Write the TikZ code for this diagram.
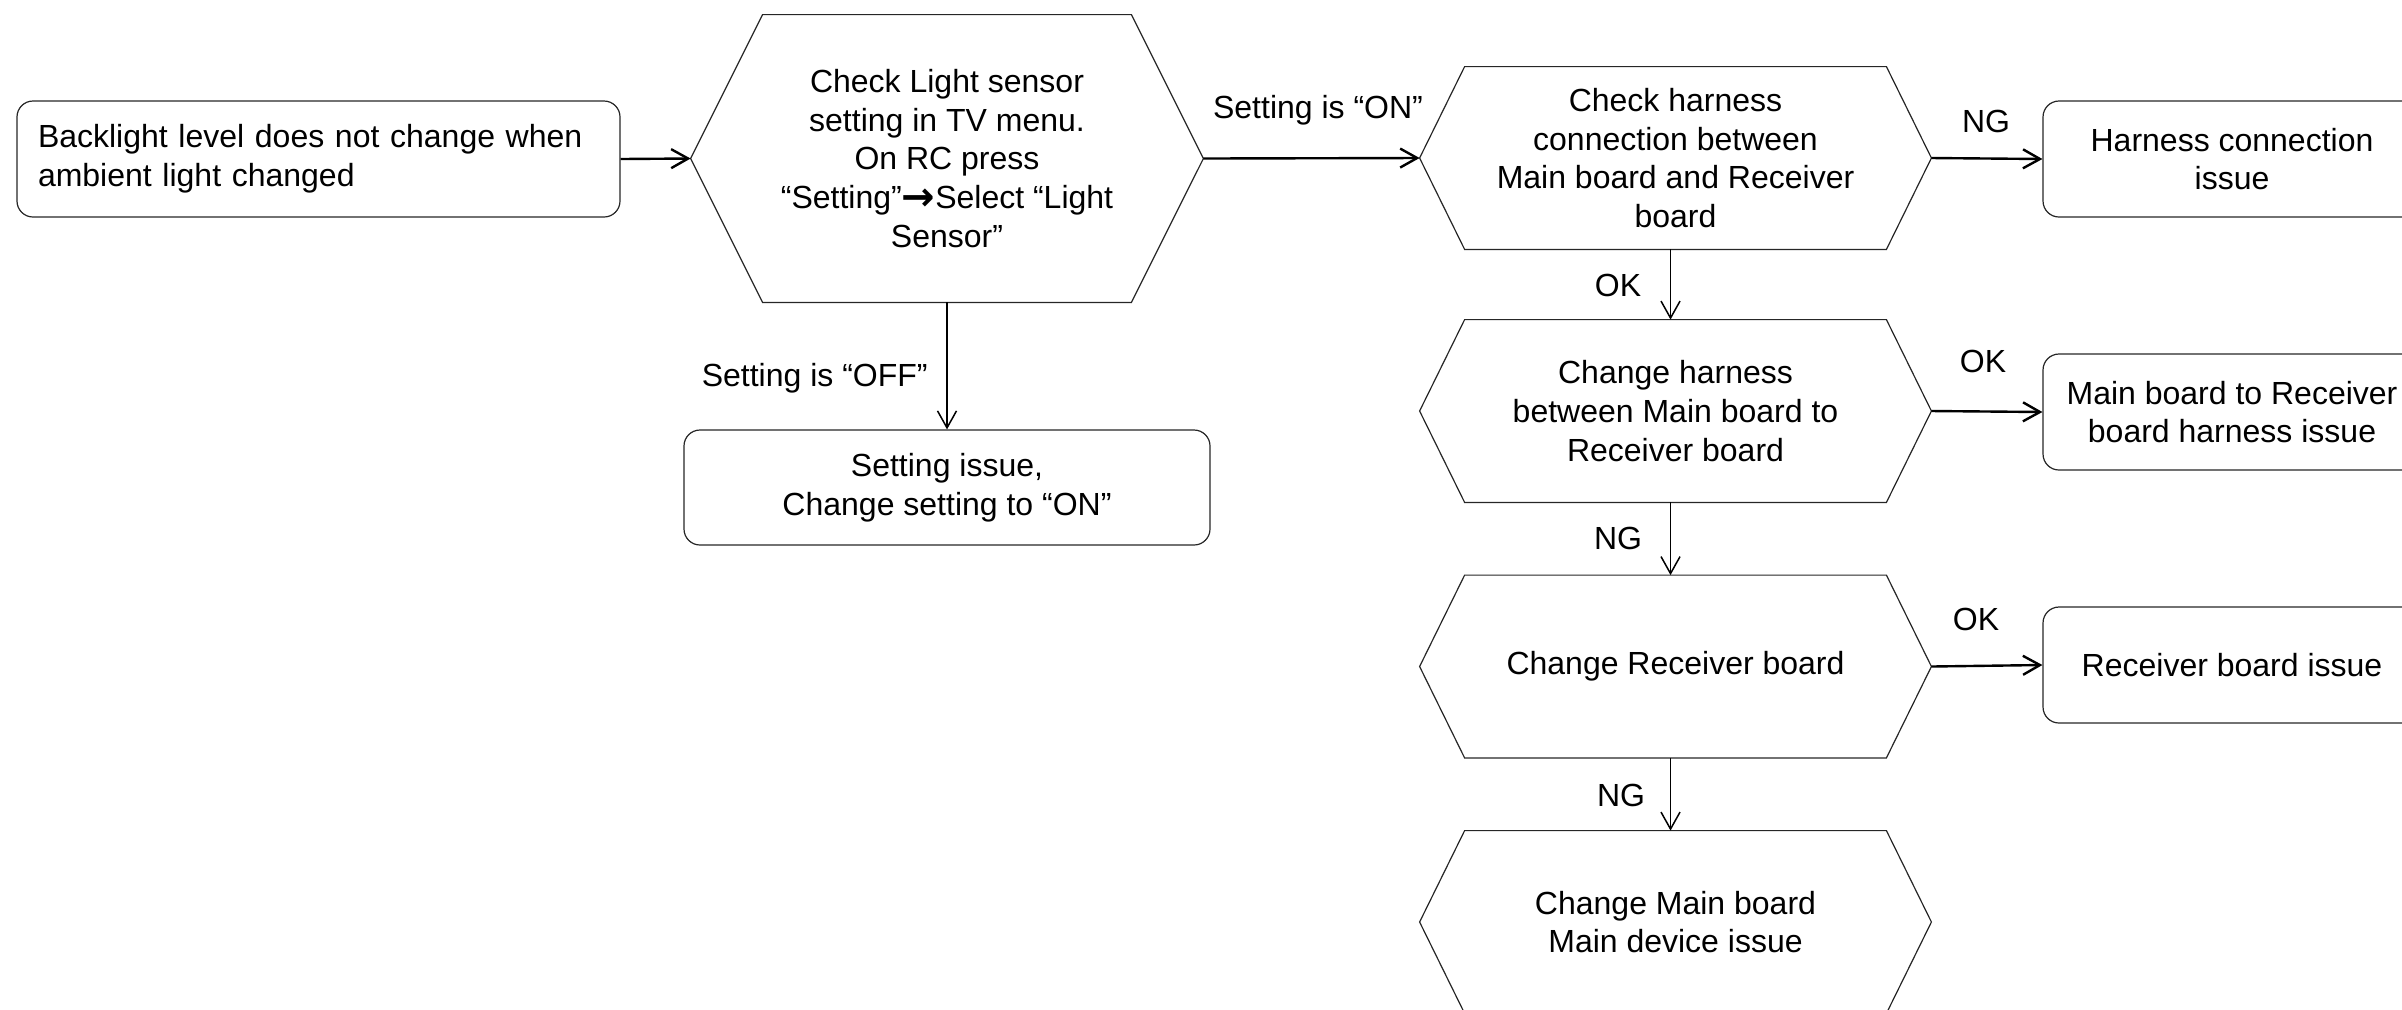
\documentclass[tikz,border=0pt]{standalone}
\usepackage{fontspec}
\setmainfont{Liberation Sans}
\newfontfamily\arrowfont{DejaVu Sans}
\usetikzlibrary{arrows.meta}
\newcommand\hexdraw[2]{\draw[shapeline] ([xshift=#2]#1.north west) -- ([xshift=-#2]#1.north east) -- (#1.east) -- ([xshift=-#2]#1.south east) -- ([xshift=#2]#1.south west) -- (#1.west) -- cycle;}
\newcommand\boldarr{{\raisebox{-1.2pt}{\arrowfont\bfseries\fontsize{20pt}{20pt}\selectfont →}}}
\begin{document}
\begin{tikzpicture}[x=0.5pt,y=-0.5pt,
  font=\fontsize{16pt}{19.3pt}\selectfont,
  shapeline/.style={draw=black!85, line width=0.6pt},
  hexbox/.style={minimum width=255.5pt, minimum height=91pt, inner sep=0pt, align=center},
  issuebox/.style={shapeline, rounded corners=8pt, minimum width=189pt, minimum height=58pt, inner sep=0pt, align=center},
  harrow/.style={line width=1.2pt, -{Straight Barb[length=8.5pt,width=9.5pt]}},
  varrow/.style={line width=0.75pt, -{Straight Barb[length=8.5pt,width=9.5pt]}},
  lbl/.style={inner sep=0pt}
]
\useasboundingbox (0,0) rectangle (2402,1009);
\clip (0,0) rectangle (2402,1009);

% start box
\node[shapeline, rounded corners=8pt, minimum height=58pt, text width=280.5pt, inner xsep=10.5pt, inner ysep=0pt, align=left] (start) at (318.5,159) {Backlight level does not change when\\ambient light changed};

% first decision
\node[hexbox, minimum width=256pt, minimum height=143.5pt] (q1) at (947,158.5) {Check Light sensor\\setting in TV menu.\\On RC press\\“Setting”\boldarr Select “Light\\Sensor”};
\hexdraw{q1}{36pt}

\node[issuebox, minimum width=263pt, minimum height=57.5pt] (setbox) at (947,487.5) {Setting issue,\\Change setting to “ON”};

% right column hexagons
\node[hexbox] (q2) at (1675.5,158) {Check harness\\connection between\\Main board and Receiver\\board};
\hexdraw{q2}{22.5pt}
\node[hexbox] (q3) at (1675.5,411) {Change harness\\between Main board to\\Receiver board};
\hexdraw{q3}{22.5pt}
\node[hexbox] (q4) at (1675.5,666.5) {Change Receiver board};
\hexdraw{q4}{22.5pt}
\node[hexbox] (q5) at (1675.5,922) {Change Main board\\Main device issue};
\hexdraw{q5}{22.5pt}

% result boxes
\node[issuebox] (hc) at (2232,159) {Harness connection\\issue};
\node[issuebox] (mb) at (2232,412) {Main board to Receiver\\board harness issue};
\node[issuebox] (rb) at (2232,665) {Receiver board issue};

% connectors
\draw[harrow] (start.east) -- (q1.west);
\draw[harrow] (q1.east) -- (q2.west);
\draw[harrow] (q2.east) -- (hc.west);
\draw[harrow] (q3.east) -- (mb.west);
\draw[harrow] (q4.east) -- (rb.west);
\draw[varrow] (q1.south) -- (setbox.north);
\draw[varrow] ([xshift=-2.5pt]q2.south) -- ([xshift=-2.5pt]q3.north);
\draw[varrow] ([xshift=-2.5pt]q3.south) -- ([xshift=-2.5pt]q4.north);
\draw[varrow] ([xshift=-2.5pt]q4.south) -- ([xshift=-2.5pt]q5.north);

% labels
\node[lbl] (lon) at (1318,110) {Setting is “ON”};
\node[lbl, anchor=east] (loff) at (928,378) {Setting is “OFF”};
\node[lbl] (lng1) at (1986,121) {NG};
\node[lbl] (lok2) at (1983,361) {OK};
\node[lbl] (lok3) at (1976,619) {OK};
\node[lbl] (lok1) at (1618,285) {OK};
\node[lbl] (lng2) at (1618,538) {NG};
\node[lbl] (lng3) at (1621,795) {NG};
\end{tikzpicture}
\end{document}
